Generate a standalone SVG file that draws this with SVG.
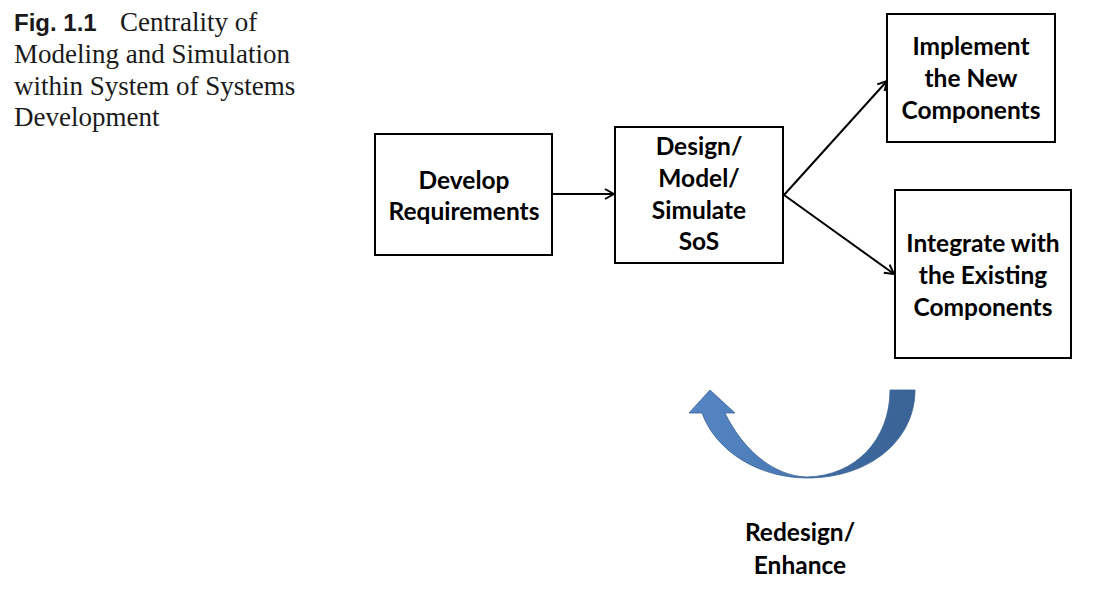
<svg xmlns="http://www.w3.org/2000/svg" width="1111" height="592" viewBox="0 0 1111 592">
<style>
.box{fill:#fff;stroke:#000;stroke-width:2}
.bt{font-family:Lato,"Liberation Sans",sans-serif;font-weight:bold;font-size:24.5px;fill:#000;text-anchor:middle}
.cap{font-family:"Liberation Serif",serif;font-size:27px;fill:#1a1a1a}
.capb{font-family:"Liberation Sans",sans-serif;font-weight:bold;font-size:24px;fill:#1a1a1a}
.con{stroke:#000;stroke-width:2;fill:none}
</style>
<defs>
<marker id="ah" viewBox="0 0 12 12" refX="11" refY="6" markerWidth="12" markerHeight="12" markerUnits="userSpaceOnUse" orient="auto">
<path d="M2,1 L11,6 L2,11" fill="none" stroke="#000" stroke-width="2"/>
</marker>
<linearGradient id="g" x1="0" y1="0" x2="1" y2="0">
<stop offset="0" stop-color="#5585c4"/>
<stop offset="0.45" stop-color="#4a7ab5"/>
<stop offset="0.6" stop-color="#3e6aa0"/>
<stop offset="1" stop-color="#3a6395"/>
</linearGradient>
</defs>
<g id="caption">
<text x="14" y="31"><tspan class="capb">Fig. 1.1</tspan><tspan class="cap" x="120">Centrality of</tspan></text>
<text class="cap" x="14" y="63">Modeling and Simulation</text>
<text class="cap" x="14" y="95">within System of Systems</text>
<text class="cap" x="14" y="126">Development</text>
</g>
<g id="connectors">
<line class="con" x1="552" y1="194" x2="614" y2="194" marker-end="url(#ah)"/>
<line class="con" x1="784" y1="195" x2="887" y2="81" marker-end="url(#ah)"/>
<line class="con" x1="784" y1="195" x2="894" y2="274" marker-end="url(#ah)"/>
</g>
<g id="develop">
<rect class="box" x="375" y="134" width="177" height="121"/>
<text class="bt" x="464" y="189">Develop</text>
<text class="bt" x="464" y="220">Requirements</text>
</g>
<g id="design">
<rect class="box" x="615" y="127" width="168" height="136"/>
<text class="bt" x="699" y="155">Design/</text>
<text class="bt" x="699" y="187">Model/</text>
<text class="bt" x="699" y="219">Simulate</text>
<text class="bt" x="699" y="250">SoS</text>
</g>
<g id="implement">
<rect class="box" x="887" y="14" width="168" height="128"/>
<text class="bt" x="971" y="55">Implement</text>
<text class="bt" x="971" y="87">the New</text>
<text class="bt" x="971" y="119">Components</text>
</g>
<g id="integrate">
<rect class="box" x="895" y="190" width="176" height="168"/>
<text class="bt" x="983" y="252">Integrate with</text>
<text class="bt" x="983" y="284">the Existing</text>
<text class="bt" x="983" y="316">Components</text>
</g>
<g id="redesign">
<path d="M890 390 L915 390 C915 440 870 478 807 478 C760 478 716 452 702 413 L689 413 L710 390 L735 413 L725 413 C742 448 772 476 807 477 C855 476 890 440 890 390 Z" fill="url(#g)" stroke="#3a6395" stroke-width="0.8"/>
<text class="bt" x="800" y="541">Redesign/</text>
<text class="bt" x="800" y="574">Enhance</text>
</g>
</svg>
